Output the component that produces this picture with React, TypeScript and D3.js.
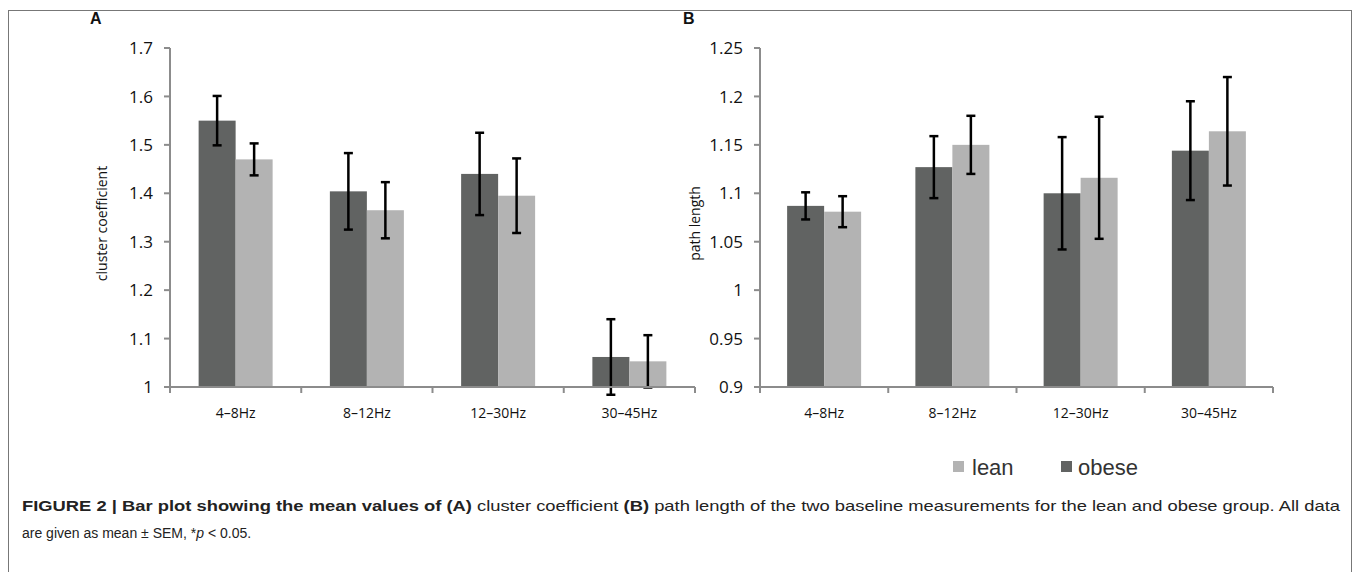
import React from 'react';
import * as d3 from 'd3';

// frequency bands shared by both panels
const bands = ['4–8Hz', '8–12Hz', '12–30Hz', '30–45Hz'];
const groups = ['obese', 'lean'];

// panel A: cluster coefficient
const clusterObese = [1.55, 1.404, 1.44, 1.062];
const clusterObeseSem = [0.051, 0.079, 0.085, 0.078];
const clusterLean = [1.47, 1.365, 1.395, 1.053];
const clusterLeanSem = [0.033, 0.058, 0.077, 0.054];
const clusterTicks = [1, 1.1, 1.2, 1.3, 1.4, 1.5, 1.6, 1.7];

// panel B: path length
const pathObese = [1.087, 1.127, 1.1, 1.144];
const pathObeseSem = [0.014, 0.032, 0.058, 0.051];
const pathLean = [1.081, 1.15, 1.116, 1.164];
const pathLeanSem = [0.016, 0.03, 0.063, 0.056];
const pathTicks = [0.9, 0.95, 1, 1.05, 1.1, 1.15, 1.2, 1.25];

const colors = { obese: '#616362', lean: '#b3b3b3' };
const axisColor = '#8c8c8c';
const tickFont = '"Open Sans", "DejaVu Sans", sans-serif';

type PanelProps = {
    letter: string;
    yLabel: string;
    ticks: number[];
    obese: number[];
    obeseSem: number[];
    lean: number[];
    leanSem: number[];
    x0: number;
    x1: number;
    letterX: number;
    labelX: number;
};

const Panel = (p: PanelProps) => {
    const top = 48, bottom = 387;
    const y = d3.scaleLinear().domain([p.ticks[0], p.ticks[p.ticks.length - 1]]).range([bottom, top]);
    const x = d3.scaleBand().domain(bands).range([p.x0, p.x1]);
    const inner = d3.scaleBand().domain(groups).range([0, 74]);
    const series: Record<string, { v: number[]; e: number[] }> = {
        obese: { v: p.obese, e: p.obeseSem },
        lean: { v: p.lean, e: p.leanSem },
    };
    const fmt = (t: number) => String(+t.toFixed(2));
    return (
        <g>
            <text x={p.letterX} y={24} fontFamily='"Liberation Sans", Arial, sans-serif' fontWeight="bold" fontSize={16} fill="#111">{p.letter}</text>
            {bands.map((b, i) => groups.map(g => {
                const v = series[g].v[i];
                const e = series[g].e[i];
                const bx = (x(b) as number) + (x.bandwidth() - 74) / 2 + (inner(g) as number);
                const cx = bx + inner.bandwidth() / 2;
                return (
                    <g key={b + g}>
                        <rect x={bx} y={y(v)} width={inner.bandwidth()} height={bottom - y(v)} fill={colors[g as 'obese' | 'lean']} />
                        <line x1={cx} x2={cx} y1={y(v + e)} y2={y(v - e)} stroke="#000" strokeWidth={2.5} />
                        <line x1={cx - 4.5} x2={cx + 4.5} y1={y(v + e)} y2={y(v + e)} stroke="#000" strokeWidth={2.5} />
                        <line x1={cx - 4.5} x2={cx + 4.5} y1={y(v - e)} y2={y(v - e)} stroke="#000" strokeWidth={2.5} />
                    </g>
                );
            }))}
            {/* y axis */}
            <line x1={p.x0} x2={p.x0} y1={top} y2={bottom} stroke={axisColor} strokeWidth={2} />
            {p.ticks.map(t => (
                <g key={t}>
                    <line x1={p.x0 - 6} x2={p.x0} y1={y(t)} y2={y(t)} stroke={axisColor} strokeWidth={2} />
                    <text x={p.x0 - 17} y={y(t)} dy="0.36em" textAnchor="end" fontFamily={tickFont} fontSize={17} fill="#111">{fmt(t)}</text>
                </g>
            ))}
            {/* x axis */}
            <line x1={p.x0 - 6} x2={p.x1} y1={bottom} y2={bottom} stroke={axisColor} strokeWidth={2} />
            {bands.map(b => (
                <line key={b} x1={x(b) as number} x2={x(b) as number} y1={bottom} y2={bottom + 6} stroke={axisColor} strokeWidth={2} />
            ))}
            <line x1={p.x1} x2={p.x1} y1={bottom} y2={bottom + 6} stroke={axisColor} strokeWidth={2} />
            {bands.map(b => (
                <text key={b} x={(x(b) as number) + x.bandwidth() / 2} y={bottom + 31} textAnchor="middle" fontFamily={tickFont} fontSize={14} fill="#111">{b}</text>
            ))}
            <text transform={`translate(${p.labelX},${(top + bottom) / 2 + 6}) rotate(-90)`} textAnchor="middle" fontFamily={tickFont} fontSize={14} fill="#111">{p.yLabel}</text>
        </g>
    );
};

const App = () => {
    const W = 1360, H = 572;
    const capFont = '"Liberation Sans", Arial, sans-serif';
    return (
        <svg width={W} height={H} style={{ position: 'absolute', left: 0, top: 0, background: '#fff' }}>
            <rect x={8.5} y={10.5} width={1343} height={580} fill="none" stroke="#777" strokeWidth={1} />
            <Panel letter="A" yLabel="cluster coefficient" ticks={clusterTicks}
                obese={clusterObese} obeseSem={clusterObeseSem} lean={clusterLean} leanSem={clusterLeanSem}
                x0={170} x1={695} letterX={90} labelX={107} />
            <Panel letter="B" yLabel="path length" ticks={pathTicks}
                obese={pathObese} obeseSem={pathObeseSem} lean={pathLean} leanSem={pathLeanSem}
                x0={760} x1={1273} letterX={683} labelX={700} />
            {/* legend */}
            <rect x={953} y={461} width={11} height={11} fill={colors.lean} />
            <text x={972} y={475} fontFamily='"Liberation Sans", Arial, sans-serif' fontSize={22} fill="#333">lean</text>
            <rect x={1061} y={461} width={11} height={11} fill={colors.obese} />
            <text x={1078} y={475} fontFamily='"Liberation Sans", Arial, sans-serif' fontSize={22} fill="#333">obese</text>
            {/* caption */}
            <text x={22} y={511} fontFamily={capFont} fontSize={15} fill="#222" textLength={1318} lengthAdjust="spacingAndGlyphs">
                <tspan fontWeight="bold">FIGURE 2 | Bar plot showing the mean values of (A)</tspan>
                <tspan> cluster coefficient </tspan>
                <tspan fontWeight="bold">(B)</tspan>
                <tspan> path length of the two baseline measurements for the lean and obese group. All data</tspan>
            </text>
            <text x={22} y={538} fontFamily={capFont} fontSize={14} fill="#222">
                are given as mean ± SEM, *<tspan fontStyle="italic">p</tspan> {'<'} 0.05.
            </text>
        </svg>
    );
};

export default App;
